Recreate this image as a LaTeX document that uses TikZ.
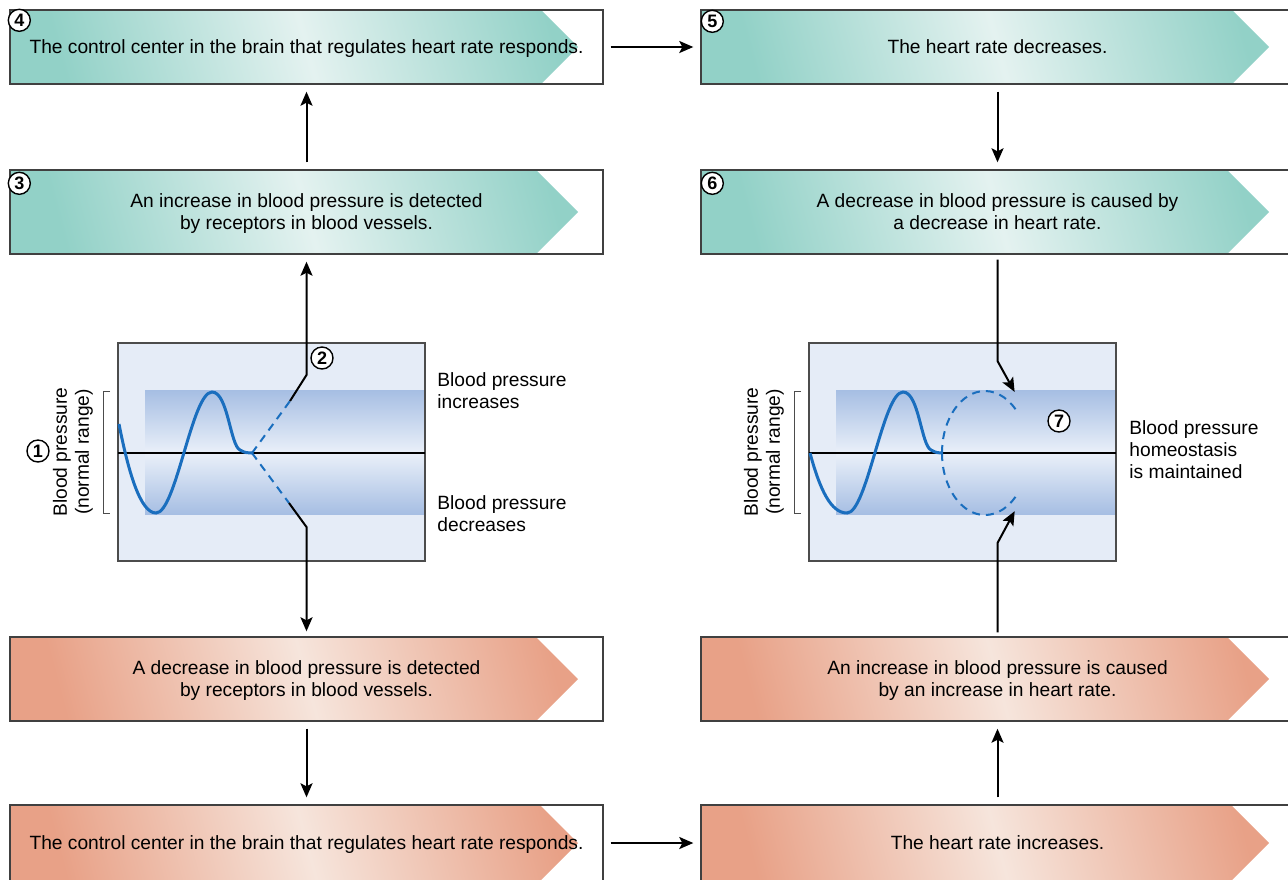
\documentclass[tikz,border=0pt]{standalone}
\usepackage{fontspec}
\setmainfont{Liberation Sans}
\usetikzlibrary{arrows.meta,calc}

\definecolor{tealdark}{HTML}{92D1C7}
\definecolor{teallight}{HTML}{E4F2F0}
\definecolor{pinkdark}{HTML}{E8A187}
\definecolor{pinklight}{HTML}{F6E5DC}
\definecolor{paneblue}{HTML}{E5ECF7}
\definecolor{banddark}{HTML}{A6BEE3}
\definecolor{bandlight}{HTML}{EAF0F9}
\definecolor{curveblue}{HTML}{1A6EBE}

\tikzset{
  txt/.style={font=\fontsize{9.6}{11}\selectfont},
  stagebox/.style={draw=black!75, line width=0.7pt, minimum width=296.5pt, minimum height=42pt,
    inner sep=0pt, text depth=0pt, align=center, txt,
    path picture={\shade[#1] let \p1=(path picture bounding box.north east),
      \p2=(path picture bounding box.south west), \n1={(\y1-\y2)/2} in
      (\x2,\y1) -- (\x1-12.5pt-\n1,\y1) -- (\x1-12.5pt,\y1-\n1) -- (\x1-12.5pt-\n1,\y2) -- (\x2,\y2) -- cycle;}},
  risebox/.style={stagebox={left color=tealdark, right color=tealdark, middle color=teallight, shading angle=105}},
  fallbox/.style={stagebox={left color=pinkdark, right color=pinkdark, middle color=pinklight, shading angle=105}},
  num/.style={circle, draw, line width=0.7pt, fill=white, inner sep=0pt, minimum size=11pt,
    font=\bfseries\fontsize{9}{9}\selectfont},
  side/.style={txt, align=left, anchor=west, inner xsep=0pt},
  flow/.style={line width=1pt, -{Stealth[length=7pt,width=6pt,inset=1.5pt]}, shorten >=3.5pt, shorten <=3.5pt},
  curve/.style={curveblue, line width=1.5pt},
  curvedash/.style={curveblue, line width=1pt, dash pattern=on 4pt off 3pt},
}

\begin{document}
\begin{tikzpicture}[x=0.5pt, y=-0.5pt]
  \useasboundingbox (0,0) rectangle (1288,879);
  \clip (0,0) rectangle (1288,879);

  \node[risebox, minimum height=37pt] (control) at (306.5,47) {The control center in the brain that regulates heart rate responds.};
  \node[risebox, minimum height=37pt] (slower) at (997.5,47) {The heart rate decreases.};
  \node[risebox] (detecthigh) at (306.5,212) {An increase in blood pressure is detected\\by receptors in blood vessels.};
  \node[risebox] (causelow) at (997.5,212) {A decrease in blood pressure is caused by\\a decrease in heart rate.};
  \node[fallbox] (detectlow) at (306.5,679) {A decrease in blood pressure is detected\\by receptors in blood vessels.};
  \node[fallbox] (causehigh) at (997.5,679) {An increase in blood pressure is caused\\by an increase in heart rate.};
  \node[fallbox, minimum height=38pt] (controllow) at (306.5,843) {The control center in the brain that regulates heart rate responds.};
  \node[fallbox, minimum height=38pt] (faster) at (997.5,843) {The heart rate increases.};

  \node[num] (n3) at ([shift={(10,14)}]detecthigh.north west) {3};
  \node[num] (n4) at ([shift={(10,11)}]control.north west) {4};
  \node[num] (n5) at ([shift={(12,12)}]slower.north west) {5};
  \node[num] (n6) at ([shift={(12,14)}]causelow.north west) {6};

  \foreach \k in {0,691} {
   \fill[paneblue] (118+\k,343) rectangle (425+\k,561);
   \shade[top color=banddark, bottom color=bandlight] (145+\k,390) rectangle (425+\k,453);
   \shade[top color=bandlight, bottom color=banddark] (145+\k,453) rectangle (425+\k,514);
   \draw[black!70, line width=0.6pt] (118+\k,343) rectangle (425+\k,561);
   \draw[line width=0.75pt] (118+\k,453) -- (425+\k,453);
   \draw[black!70, line width=0.5pt] (110+\k,391) -- (103+\k,391) -- (103+\k,513) -- (110+\k,513);
   \node[txt, rotate=90, align=center] (range\k) at (73+\k,452) {Blood pressure\\(normal range)};
  }

  \draw[curve] (119,424) .. controls (128,470) and (140,513) .. (156,513)
    .. controls (176,513) and (192,392) .. (212,392)
    .. controls (228,392) and (230,445) .. (240,450)
    .. controls (245,453) and (248,453) .. (252,453);
  \draw[curve] (810,453) .. controls (820,490) and (831,513) .. (847,513)
    .. controls (867,513) and (883,392) .. (903,392)
    .. controls (919,392) and (921,445) .. (931,450)
    .. controls (936,453) and (939,453) .. (942,453);

  \coordinate (riseend) at (290,401);
  \coordinate (risekink) at (306.5,375);
  \coordinate (fallend) at (289,503);
  \coordinate (fallkink) at (306.5,527);
  \draw[curvedash] (252,453) -- (riseend);
  \draw[curvedash] (252,453) -- (fallend);
  \draw[curvedash] (942,453) arc[start angle=180, end angle=321, x radius=43, y radius=62];
  \draw[curvedash] (942,453) arc[start angle=180, end angle=39, x radius=43, y radius=62];

  \coordinate (holdkink) at (997.5,361);
  \coordinate (holdtip) at (1018,398);
  \coordinate (liftkink) at (997.5,543);
  \coordinate (lifttip) at (1018,505);

  \draw[flow, shorten <=0pt] (riseend) -- (risekink) -- (risekink |- detecthigh.south);
  \draw[flow, shorten <=0pt, shorten >=2.5pt] (fallend) -- (fallkink) -- (fallkink |- detectlow.north);
  \draw[flow, shorten <=2.5pt] (causelow) -- (holdkink) -- (holdtip);
  \draw[flow, shorten <=2pt] (causehigh) -- (liftkink) -- (lifttip);
  \draw[flow] (detecthigh) -- (control);
  \draw[flow] (control) -- (slower);
  \draw[flow] (slower) -- (causelow);
  \draw[flow] (detectlow) -- (controllow);
  \draw[flow] (controllow) -- (faster);
  \draw[flow] (faster) -- (causehigh);

  \node[num] (n1) at (38,451) {1};
  \node[num] (n2) at (322,358) {2};
  \node[num] (n7) at (1059,421) {7};

  \node[side] (risetext) at (437,391) {Blood pressure\\increases};
  \node[side] (falltext) at (437,514) {Blood pressure\\decreases};
  \node[side] (holdtext) at (1129,450) {Blood pressure\\homeostasis\\is maintained};
\end{tikzpicture}
\end{document}
